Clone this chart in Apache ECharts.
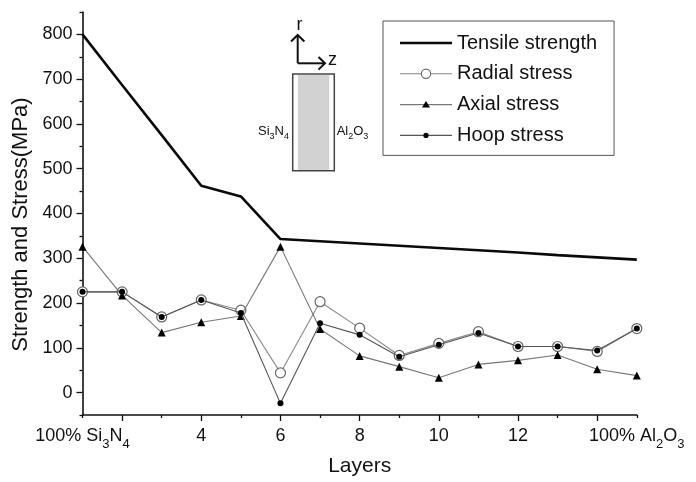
<!DOCTYPE html>
<html>
<head>
<meta charset="utf-8">
<script src="https://cdn.jsdelivr.net/npm/echarts@6/dist/echarts.min.js"></script>
<style>html,body{margin:0;padding:0;background:#fff;}#c{width:696px;height:482px;}</style>
</head>
<body>
<div id="c"></div>
<script>
// ---- data ----
const layers = [1,2,3,4,5,6,7,8,9,10,11,12,13,14,15];
const tensileStrength = [800, 687, 575, 462, 438, 343, 338, 333, 328, 323, 318, 313, 307, 302, 297];
const radialStress = [225, 225, 169, 207, 184, 44, 203, 144, 83, 110, 136, 103, 103, 92, 143];
const axialStress  = [326, 217, 134, 157, 171, 326, 142, 82, 58, 33, 63, 72, 84, 52, 38];
const hoopStress   = [225, 225, 169, 207, 178, -24, 155, 129, 80, 107, 133, 103, 103, 94, 143];
const xLabelValues = [1, 4, 6, 8, 10, 12, 15];
const yLabelValues = [0, 100, 200, 300, 400, 500, 600, 700, 800];
const seriesNames = ['Tensile strength', 'Radial stress', 'Axial stress', 'Hoop stress'];
const X_MIN = 1, X_MAX = 15, Y_MIN = -50, Y_MAX = 850;

const FONT = 'Liberation Sans, Arial, sans-serif';
const pair = (ys) => layers.map((x, i) => [x, ys[i]]);

const chart = echarts.init(document.getElementById('c'));
const axisLineStyle = {color: '#111', width: 1.6};
const tickStyle = {color: '#111', width: 1.3};

// legend icons (52 x 14 boxes)
const BOX = 'M0,0 M52,14 ';
const lineIcon = (t) => 'path://' + BOX + `M0,${7 - t / 2} L52,${7 - t / 2} L52,${7 + t / 2} L0,${7 + t / 2} Z`;
const gapLineIcon = 'path://' + BOX + 'M0,6.45 L21,6.45 L21,7.55 L0,7.55 Z M31,6.45 L52,6.45 L52,7.55 L31,7.55 Z';
const ringIcon = 'path://' + BOX + 'M31.2,7 A5.2,5.2 0 1 0 20.8,7 A5.2,5.2 0 1 0 31.2,7 Z M30.1,7 A4.1,4.1 0 1 1 21.9,7 A4.1,4.1 0 1 1 30.1,7 Z';
const triIcon = 'path://' + BOX + 'M26,3.3 L30,10 L22,10 Z';
const dotIcon = 'path://' + BOX + 'M28.6,7 A2.6,2.6 0 1 0 23.4,7 A2.6,2.6 0 1 0 28.6,7 Z';
const emptyIcon = 'path://' + BOX;

const legendBase = {
  orient: 'vertical', left: 383, top: 21,
  padding: [12, 17, 10, 17],
  itemWidth: 52, itemHeight: 14, itemGap: 10.8,
  symbolKeepAspect: true,
  selectedMode: false
};

const option = {
  animation: false,
  backgroundColor: '#fff',
  grid: {left: 82.5, right: 59.2, top: 12, bottom: 63.5, containLabel: false},
  legend: [
    Object.assign({}, legendBase, {
      borderColor: '#555', borderWidth: 1,
      textStyle: {fontSize: 20, fontFamily: FONT, color: '#111'},
      data: [
        {name: seriesNames[0], icon: lineIcon(2.6), itemStyle: {color: '#0a0a0a', borderWidth: 0}},
        {name: seriesNames[1], icon: gapLineIcon, itemStyle: {color: '#888', borderWidth: 0}},
        {name: seriesNames[2], icon: lineIcon(1.1), itemStyle: {color: '#777', borderWidth: 0}},
        {name: seriesNames[3], icon: lineIcon(1.1), itemStyle: {color: '#555', borderWidth: 0}}
      ]
    }),
    Object.assign({}, legendBase, {
      borderWidth: 0,
      textStyle: {fontSize: 20, fontFamily: FONT, color: 'rgba(0,0,0,0)'},
      data: [
        {name: seriesNames[0], icon: emptyIcon, itemStyle: {color: 'rgba(0,0,0,0)', borderWidth: 0}},
        {name: seriesNames[1], icon: ringIcon, itemStyle: {color: '#666', borderWidth: 0}},
        {name: seriesNames[2], icon: triIcon, itemStyle: {color: '#000', borderWidth: 0}},
        {name: seriesNames[3], icon: dotIcon, itemStyle: {color: '#000', borderWidth: 0}}
      ]
    })
  ],
  xAxis: [{
    // main axis: minor ticks on odd layers (interval), major ticks on even layers (minorTick)
    type: 'value', min: X_MIN, max: X_MAX, interval: 2, position: 'bottom',
    axisLine: {show: true, onZero: false, lineStyle: axisLineStyle},
    axisTick: {show: true, inside: false, length: 3, lineStyle: tickStyle},
    minorTick: {show: true, splitNumber: 2, length: 6, lineStyle: tickStyle},
    splitLine: {show: false}, minorSplitLine: {show: false},
    axisLabel: {show: false}
  }, {
    // label axis
    type: 'value', min: X_MIN, max: X_MAX, interval: 1, position: 'bottom',
    name: 'Layers', nameLocation: 'middle', nameGap: 41,
    nameTextStyle: {fontSize: 21, fontFamily: FONT, color: '#111'},
    axisLine: {show: false, onZero: false}, axisTick: {show: false}, splitLine: {show: false},
    axisLabel: {
      margin: 12, showMinLabel: true, showMaxLabel: true,
      fontSize: 18, fontFamily: FONT, color: '#111',
      formatter: (v) => v === 1 ? '100% Si{s|3}N{s|4}' : (v === 15 ? '100% Al{s|2}O{s|3}' : (xLabelValues.indexOf(v) >= 0 ? String(v) : '')),
      rich: {s: {fontSize: 13, fontFamily: FONT, color: '#111', verticalAlign: 'bottom', padding: [0, 0, -6, 0]}}
    }
  }],
  yAxis: [{
    // main axis: minor ticks at ..50 (interval), major ticks at hundreds (minorTick)
    type: 'value', min: Y_MIN, max: Y_MAX, interval: 100,
    axisLine: {show: true, onZero: false, lineStyle: axisLineStyle},
    axisTick: {show: true, length: 3, lineStyle: tickStyle},
    minorTick: {show: true, splitNumber: 2, length: 6, lineStyle: tickStyle},
    splitLine: {show: false}, minorSplitLine: {show: false},
    axisLabel: {show: false}
  }, {
    type: 'value', min: Y_MIN, max: Y_MAX, interval: 50, position: 'left',
    name: 'Strength and Stress(MPa)', nameLocation: 'middle', nameGap: 50,
    nameTextStyle: {fontSize: 22, fontFamily: FONT, color: '#111', padding: [0, 22, 0, 0]},
    axisLine: {show: false, onZero: false}, axisTick: {show: false}, splitLine: {show: false},
    axisLabel: {
      margin: 10, fontSize: 18, fontFamily: FONT, color: '#111',
      formatter: (v) => yLabelValues.indexOf(v) >= 0 ? String(v) : ''
    }
  }],
  series: [{
    name: seriesNames[0], type: 'line', data: pair(tensileStrength),
    symbol: 'none', lineStyle: {color: '#0a0a0a', width: 2.6}, itemStyle: {color: '#0a0a0a'}, z: 5
  }, {
    name: seriesNames[2], type: 'line', data: pair(axialStress),
    symbol: 'triangle', symbolSize: 8,
    lineStyle: {color: '#777', width: 1.1}, itemStyle: {color: '#000'}, z: 3
  }, {
    name: seriesNames[1], type: 'line', data: pair(radialStress),
    symbol: 'circle', symbolSize: 10,
    lineStyle: {color: '#888', width: 1.1}, itemStyle: {color: '#fff', borderColor: '#666', borderWidth: 1.2}, z: 2
  }, {
    name: seriesNames[3], type: 'line', data: pair(hoopStress),
    symbol: 'circle', symbolSize: 6,
    lineStyle: {color: '#555', width: 1.1}, itemStyle: {color: '#000'}, z: 4
  }],
  graphic: [
    // coordinate arrows
    {type: 'polyline', shape: {points: [[297.7, 63.3], [297.7, 35]]}, style: {stroke: '#111', lineWidth: 2, fill: null}},
    {type: 'polyline', shape: {points: [[291, 41.5], [297.7, 35], [304.4, 41.5]]}, style: {stroke: '#111', lineWidth: 2, fill: null}},
    {type: 'polyline', shape: {points: [[297.7, 63.3], [325, 63.3]]}, style: {stroke: '#111', lineWidth: 2, fill: null}},
    {type: 'polyline', shape: {points: [[318.5, 57], [325, 63.3], [318.5, 69.6]]}, style: {stroke: '#111', lineWidth: 2, fill: null}},
    {type: 'text', x: 299.5, y: 25, style: {text: 'r', font: '18px Liberation Sans', fill: '#111', align: 'center', verticalAlign: 'middle'}},
    {type: 'text', x: 332.5, y: 60.5, style: {text: 'z', font: '18px Liberation Sans', fill: '#111', align: 'center', verticalAlign: 'middle'}},
    // specimen
    {type: 'rect', shape: {x: 292.7, y: 74, width: 41.6, height: 96.7}, style: {fill: '#fff', stroke: '#444', lineWidth: 1.5}},
    {type: 'rect', shape: {x: 298, y: 75, width: 31.3, height: 95}, style: {fill: '#d2d2d2'}},
    {type: 'text', x: 273.5, y: 131, style: {text: 'Si{s|3}N{s|4}', font: '13px Liberation Sans', fill: '#111', align: 'center', verticalAlign: 'middle',
      rich: {s: {fontSize: 9, fontFamily: FONT, fill: '#111', verticalAlign: 'bottom', padding: [0, 0, -4, 0]}}}},
    {type: 'text', x: 352.5, y: 131, style: {text: 'Al{s|2}O{s|3}', font: '13px Liberation Sans', fill: '#111', align: 'center', verticalAlign: 'middle',
      rich: {s: {fontSize: 9, fontFamily: FONT, fill: '#111', verticalAlign: 'bottom', padding: [0, 0, -4, 0]}}}}
  ]
};
chart.setOption(option);
</script>
</body>
</html>
